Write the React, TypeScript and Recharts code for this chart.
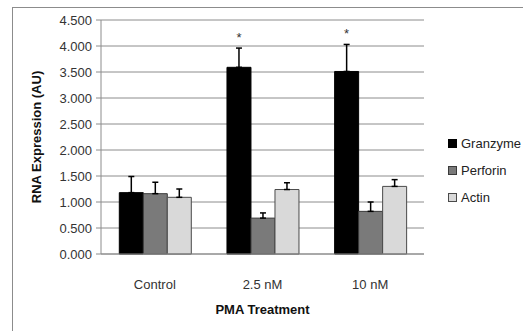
import React from 'react';
import { BarChart, Bar, XAxis, YAxis, CartesianGrid, ErrorBar, Legend, LabelList } from 'recharts';

const categories = ['Control', '2.5 nM', '10 nM'];
const granzyme = [1.18, 3.59, 3.51];
const granzymeErr = [0.31, 0.37, 0.52];
const perforin = [1.16, 0.69, 0.82];
const perforinErr = [0.22, 0.1, 0.18];
const actin = [1.09, 1.24, 1.3];
const actinErr = [0.16, 0.13, 0.13];
const significance = ['', '*', '*'];
const yTicks = [0, 0.5, 1, 1.5, 2, 2.5, 3, 3.5, 4, 4.5];

const series = [
  { key: 'granzyme', name: 'Granzyme', color: '#000000', border: '#000000' },
  { key: 'perforin', name: 'Perforin', color: '#7a7a7a', border: '#3a3a3a' },
  { key: 'actin', name: 'Actin', color: '#d9d9d9', border: '#4a4a4a' },
];

const data = categories.map((c, i) => ({
  category: c,
  granzyme: granzyme[i],
  granzymeErr: [0, granzymeErr[i]],
  perforin: perforin[i],
  perforinErr: [0, perforinErr[i]],
  actin: actin[i],
  actinErr: [0, actinErr[i]],
  sig: significance[i],
}));

const FONT = '"Liberation Sans", Arial, sans-serif';

const StarLabel = (props: any) => {
  const { x, y, width, height, value, index } = props;
  if (!value) return null;
  const pxPerUnit = height / granzyme[index];
  const errPx = granzymeErr[index] * pxPerUnit;
  return (
    <text x={x + width / 2} y={y - errPx - 6} textAnchor="middle" fontSize={13} fill="#333" fontFamily={FONT}>
      {value}
    </text>
  );
};

const LegendContent = () => (
  <div style={{ fontFamily: FONT, fontSize: 13, color: '#222' }}>
    {series.map((s) => (
      <div key={s.key} style={{ display: 'flex', alignItems: 'center', height: 27 }}>
        <span
          style={{
            display: 'inline-block',
            width: 7,
            height: 7,
            background: s.color,
            border: `1px solid ${s.border}`,
            marginRight: 4,
          }}
        />
        <span>{s.name}</span>
      </div>
    ))}
  </div>
);

export default function App() {
  return (
    <div style={{ position: 'absolute', left: 0, top: 0, width: 523, height: 331, background: '#fff', overflow: 'hidden' }}>
      <div
        style={{
          position: 'absolute',
          left: 12,
          top: 7,
          width: 600,
          height: 400,
          borderLeft: '1px solid #8c8c8c',
          borderTop: '1px solid #8c8c8c',
        }}
      />
      <div style={{ position: 'absolute', left: 0, top: 0 }}>
        <BarChart
          width={523}
          height={331}
          data={data}
          margin={{ top: 20, right: 99, bottom: 15, left: 31 }}
          barCategoryGap="17%"
          barGap={0}
        >
          <CartesianGrid vertical={false} stroke="#8c8c8c" strokeWidth={1} />
          <XAxis
            dataKey="category"
            axisLine={{ stroke: '#8c8c8c' }}
            tickLine={false}
            tickMargin={20}
            height={62}
            tick={{ fontSize: 13, fill: '#333', fontFamily: FONT }}
            label={{
              value: 'PMA Treatment',
              position: 'insideBottom',
              offset: 2,
              style: { fontSize: 13, fontWeight: 'bold', fill: '#111', fontFamily: FONT },
            }}
          />
          <YAxis
            domain={[0, 4.5]}
            ticks={yTicks}
            interval={0}
            width={70}
            axisLine={{ stroke: '#8c8c8c' }}
            tickLine={{ stroke: '#8c8c8c' }}
            tickSize={5}
            tickMargin={4}
            tickFormatter={(v: number) => v.toFixed(3)}
            tick={{ fontSize: 13, fill: '#333', fontFamily: FONT }}
            label={{
              value: 'RNA Expression (AU)',
              angle: -90,
              position: 'insideLeft',
              offset: 5,
              style: { textAnchor: 'middle', fontSize: 13, fontWeight: 'bold', fill: '#111', fontFamily: FONT },
            }}
          />
          <Legend
            layout="vertical"
            align="center"
            verticalAlign="middle"
            content={LegendContent}
            wrapperStyle={{ left: 448, top: 130, width: 80 }}
          />
          {series.map((s) => (
            <Bar
              key={s.key}
              dataKey={s.key}
              name={s.name}
              fill={s.color}
              stroke={s.border}
              strokeWidth={1}
              isAnimationActive={false}
            >
              <ErrorBar dataKey={`${s.key}Err`} width={3} stroke="#000" strokeWidth={1.5} direction="y" />
              {s.key === 'granzyme' ? <LabelList dataKey="sig" content={StarLabel} /> : null}
            </Bar>
          ))}
        </BarChart>
      </div>
    </div>
  );
}
